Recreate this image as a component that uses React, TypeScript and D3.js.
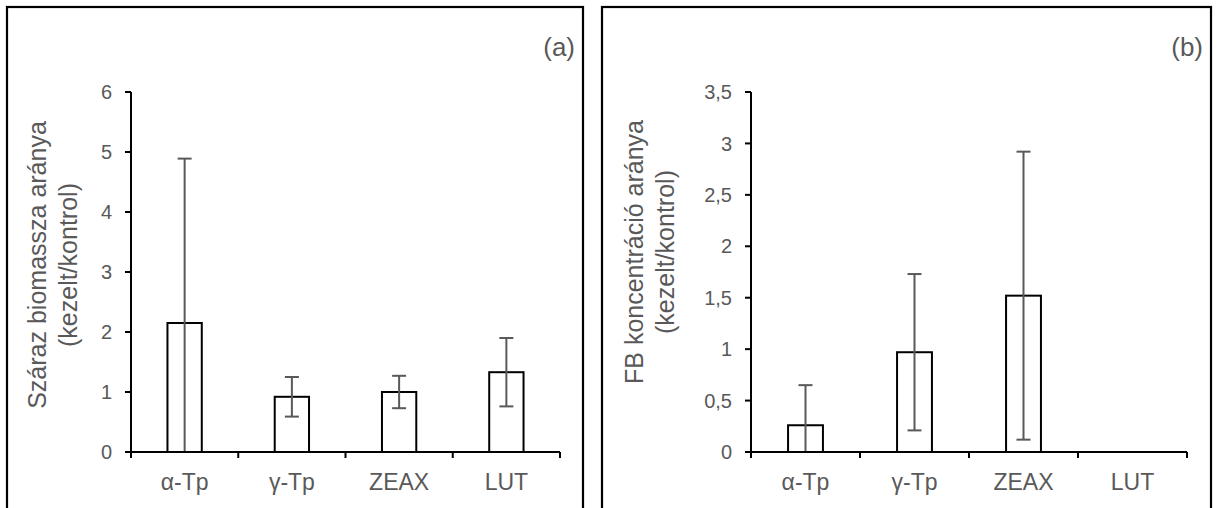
import React, { useEffect, useRef } from "react";
import * as d3 from "d3";

// data
const categories = ["α-Tp", "γ-Tp", "ZEAX", "LUT"];

const biomassValues = [2.15, 0.92, 1.0, 1.33];
const biomassErrors = [2.74, 0.33, 0.27, 0.57];
const biomassTicks = [0, 1, 2, 3, 4, 5, 6];

const fbValues = [0.26, 0.97, 1.52, 0];
const fbErrors = [0.39, 0.76, 1.4, 0];
const fbTicks = [0, 0.5, 1, 1.5, 2, 2.5, 3, 3.5];

const textGray = "#595959";
const font = "'Liberation Sans', Arial, sans-serif";

function drawPanel(svg, opts) {
  const { box, x0, x1, y0, y1, yMax, values, errors, ticks, title, tag, titleX, titleY } = opts;

  // frame
  svg
    .append("rect")
    .attr("x", box[0])
    .attr("y", box[1])
    .attr("width", box[2] - box[0])
    .attr("height", box[3] - box[1])
    .attr("fill", "none")
    .attr("stroke", "#000")
    .attr("stroke-width", 2.2);

  const g = svg.append("g");

  const pad = 0.68;
  const x = d3.scaleBand().domain(categories).range([x0, x1]).paddingInner(pad).paddingOuter(pad / 2);
  const y = d3.scaleLinear().domain([0, yMax]).range([y0, y1]);
  const step = x.step();

  // bars
  const data = categories.map((c, i) => ({ c, v: values[i], e: errors[i] }));
  g.selectAll("rect.bar")
    .data(data.filter((d) => d.v > 0))
    .join("rect")
    .attr("class", "bar")
    .attr("x", (d) => x(d.c))
    .attr("y", (d) => y(d.v))
    .attr("width", x.bandwidth())
    .attr("height", (d) => y(0) - y(d.v))
    .attr("fill", "#fff")
    .attr("stroke", "#000")
    .attr("stroke-width", 2);

  // error bars
  const cap = 7;
  const eb = g.selectAll("g.err").data(data.filter((d) => d.e > 0)).join("g").attr("class", "err")
    .attr("stroke", textGray).attr("stroke-width", 2);
  eb.append("line")
    .attr("x1", (d) => x(d.c) + x.bandwidth() / 2)
    .attr("x2", (d) => x(d.c) + x.bandwidth() / 2)
    .attr("y1", (d) => y(Math.max(0, d.v - d.e)))
    .attr("y2", (d) => y(d.v + d.e));
  eb.append("line")
    .attr("x1", (d) => x(d.c) + x.bandwidth() / 2 - cap)
    .attr("x2", (d) => x(d.c) + x.bandwidth() / 2 + cap)
    .attr("y1", (d) => y(d.v + d.e))
    .attr("y2", (d) => y(d.v + d.e));
  eb.filter((d) => d.v - d.e > 0)
    .append("line")
    .attr("x1", (d) => x(d.c) + x.bandwidth() / 2 - cap)
    .attr("x2", (d) => x(d.c) + x.bandwidth() / 2 + cap)
    .attr("y1", (d) => y(d.v - d.e))
    .attr("y2", (d) => y(d.v - d.e));

  // y axis
  const fmt = (v) => String(v).replace(".", ",");
  g.append("line").attr("x1", x0).attr("x2", x0).attr("y1", y(0)).attr("y2", y(yMax))
    .attr("stroke", "#000").attr("stroke-width", 2);
  g.selectAll("line.ytick").data(ticks).join("line").attr("class", "ytick")
    .attr("x1", x0 - 6).attr("x2", x0).attr("y1", (d) => y(d)).attr("y2", (d) => y(d))
    .attr("stroke", "#000").attr("stroke-width", 2);
  g.selectAll("text.ylab").data(ticks).join("text").attr("class", "ylab")
    .attr("x", x0 - 19).attr("y", (d) => y(d)).attr("dy", "0.36em")
    .attr("text-anchor", "end").attr("fill", textGray)
    .style("font-family", font).style("font-size", "20px")
    .text(fmt);

  // x axis
  const bounds = categories.map((c) => x(c) - (step * pad) / 2).concat([x1]);
  g.append("line").attr("x1", x0).attr("x2", x1).attr("y1", y(0)).attr("y2", y(0))
    .attr("stroke", "#000").attr("stroke-width", 2);
  g.selectAll("line.xtick").data(bounds).join("line").attr("class", "xtick")
    .attr("x1", (d) => d).attr("x2", (d) => d).attr("y1", y(0)).attr("y2", y(0) + 6)
    .attr("stroke", "#000").attr("stroke-width", 2);
  g.selectAll("text.xlab").data(categories).join("text").attr("class", "xlab")
    .attr("x", (d) => x(d) + x.bandwidth() / 2).attr("y", y(0) + 38)
    .attr("text-anchor", "middle").attr("fill", textGray)
    .style("font-family", font).style("font-size", "23px")
    .text((d) => d);

  // axis title, two lines
  title.forEach((t, i) => {
    g.append("text")
      .attr("transform", `translate(${titleX + i * 31},${titleY}) rotate(-90)`)
      .attr("text-anchor", "middle").attr("dy", "0.35em").attr("fill", textGray)
      .style("font-family", font).style("font-size", "25px")
      .text(t);
  });

  // panel tag
  g.append("text").attr("x", box[2] - 8).attr("y", 56).attr("text-anchor", "end")
    .attr("fill", textGray).style("font-family", font).style("font-size", "26px")
    .text(tag);
}

function App() {
  const ref = useRef();

  useEffect(() => {
    const svg = d3.select(ref.current);
    svg.selectAll("*").remove();

    drawPanel(svg, {
      box: [7, 7, 583, 520],
      x0: 131, x1: 560, y0: 452, y1: 92, yMax: 6,
      values: biomassValues, errors: biomassErrors, ticks: biomassTicks,
      title: ["Száraz biomassza aránya", "(kezelt/kontrol)"],
      tag: "(a)", titleX: 37, titleY: 265,
    });
    drawPanel(svg, {
      box: [602, 7, 1211, 520],
      x0: 751, x1: 1187, y0: 452, y1: 92, yMax: 3.5,
      values: fbValues, errors: fbErrors, ticks: fbTicks,
      title: ["FB koncentráció aránya", "(kezelt/kontrol)"],
      tag: "(b)", titleX: 634, titleY: 252,
    });
  }, []);

  return (
    <svg
      ref={ref}
      width={1219}
      height={508}
      style={{ position: "absolute", left: 0, top: 0, background: "#fff" }}
    />
  );
}

export default App;
